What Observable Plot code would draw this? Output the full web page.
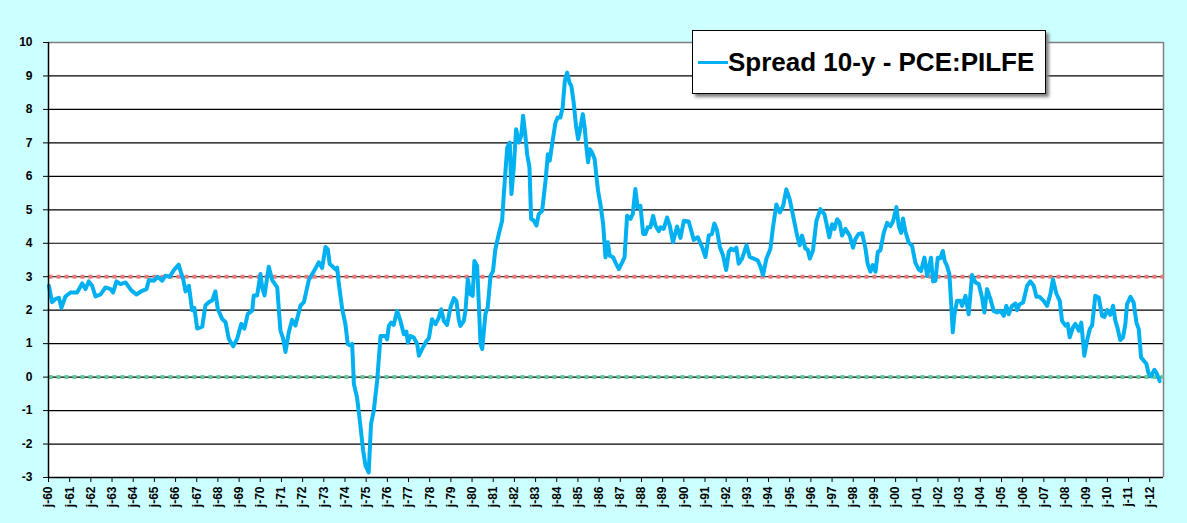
<!DOCTYPE html>
<html>
<head>
<meta charset="utf-8">
<script src="https://cdn.jsdelivr.net/npm/d3@7"></script>
<script src="https://cdn.jsdelivr.net/npm/@observablehq/plot@0.6"></script>
<style>
  html, body { margin: 0; padding: 0; background: #ccffff; }
  #wrap { position: relative; width: 1187px; height: 523px; overflow: hidden; }
  #legend {
    position: absolute; left: 692px; top: 30px; width: 354px; height: 64px;
    background: #fff; border: 1px solid #000; box-shadow: 3px 3px 3px #808080;
    font-family: "Liberation Sans", Arial, sans-serif; font-weight: bold; font-size: 26px;
    box-sizing: border-box;
  }
  #legend .sw { position: absolute; left: 5px; top: 30px; width: 30px; height: 3px; background: #00b0f0; }
  #legend .tx { position: absolute; left: 35px; top: 16px; white-space: nowrap; line-height: 30px; }
</style>
</head>
<body>
<div id="wrap"></div>
<script>
const seriesName = "Spread 10-y - PCE:PILFE";
const dates = [
1960.02,1960.17,1960.33,1960.49,1960.61,1960.80,1961.04,1961.35,1961.59,1961.75,1961.90,1962.06,1962.22,1962.46,1962.69,1962.93,1963.05,1963.21,1963.40,1963.64,1963.90,1964.15,1964.42,1964.63,1964.74,1964.97,1965.16,1965.37,1965.52,1965.73,1965.92,1966.15,1966.23,1966.36,1966.47,1966.63,1966.78,1966.89,1967.02,1967.26,1967.41,1967.57,1967.73,1967.88,1967.99,1968.20,1968.36,1968.51,1968.72,1968.91,1969.10,1969.25,1969.41,1969.62,1969.69,1969.85,1970.01,1970.09,1970.20,1970.40,1970.56,1970.80,1970.95,1971.08,1971.19,1971.35,1971.50,1971.66,1971.90,1972.06,1972.29,1972.53,1972.76,1972.92,1973.08,1973.19,1973.28,1973.39,1973.55,1973.63,1973.71,1973.87,1974.02,1974.13,1974.26,1974.34,1974.42,1974.57,1974.70,1974.86,1974.97,1975.12,1975.23,1975.36,1975.52,1975.68,1975.91,1975.99,1976.07,1976.18,1976.30,1976.46,1976.62,1976.78,1976.90,1976.97,1977.09,1977.25,1977.41,1977.49,1977.64,1977.85,1977.96,1978.11,1978.27,1978.43,1978.54,1978.67,1978.82,1978.98,1979.14,1979.26,1979.37,1979.45,1979.61,1979.69,1979.80,1979.92,1980.03,1980.11,1980.24,1980.32,1980.40,1980.48,1980.63,1980.74,1980.87,1980.99,1981.10,1981.26,1981.42,1981.50,1981.58,1981.66,1981.78,1981.86,1981.97,1982.08,1982.21,1982.32,1982.41,1982.52,1982.60,1982.71,1982.79,1982.91,1983.04,1983.15,1983.31,1983.47,1983.58,1983.67,1983.78,1983.94,1984.05,1984.17,1984.28,1984.38,1984.49,1984.60,1984.69,1984.80,1984.91,1985.01,1985.12,1985.23,1985.32,1985.40,1985.48,1985.56,1985.67,1985.79,1985.87,1985.95,1986.06,1986.19,1986.30,1986.41,1986.50,1986.66,1986.77,1986.93,1987.05,1987.20,1987.32,1987.48,1987.59,1987.71,1987.82,1987.95,1988.08,1988.19,1988.30,1988.42,1988.55,1988.66,1988.82,1988.90,1989.05,1989.21,1989.34,1989.49,1989.68,1989.84,1990.00,1990.23,1990.47,1990.66,1990.86,1991.02,1991.18,1991.33,1991.44,1991.57,1991.70,1991.85,1992.00,1992.12,1992.23,1992.36,1992.48,1992.59,1992.75,1992.96,1993.11,1993.30,1993.49,1993.62,1993.74,1993.90,1994.09,1994.21,1994.37,1994.53,1994.69,1994.84,1995.00,1995.16,1995.35,1995.47,1995.58,1995.74,1995.85,1995.95,1996.10,1996.26,1996.45,1996.64,1996.76,1996.87,1997.00,1997.11,1997.24,1997.36,1997.47,1997.63,1997.83,1997.99,1998.10,1998.26,1998.42,1998.57,1998.68,1998.81,1998.92,1999.05,1999.16,1999.28,1999.44,1999.60,1999.75,1999.88,2000.04,2000.15,2000.26,2000.35,2000.46,2000.62,2000.78,2000.93,2001.09,2001.20,2001.36,2001.49,2001.67,2001.77,2001.88,2001.99,2002.11,2002.23,2002.32,2002.43,2002.54,2002.62,2002.70,2002.78,2002.90,2003.06,2003.14,2003.30,2003.45,2003.61,2003.77,2003.93,2004.08,2004.19,2004.32,2004.48,2004.63,2004.79,2004.95,2005.11,2005.23,2005.34,2005.50,2005.66,2005.73,2005.86,2006.02,2006.21,2006.36,2006.52,2006.65,2006.80,2006.99,2007.15,2007.31,2007.43,2007.59,2007.75,2007.86,2008.02,2008.13,2008.22,2008.38,2008.49,2008.65,2008.77,2008.91,2009.04,2009.17,2009.28,2009.43,2009.59,2009.75,2009.86,2009.99,2010.14,2010.27,2010.38,2010.49,2010.61,2010.74,2010.85,2010.93,2011.09,2011.24,2011.37,2011.48,2011.59,2011.72,2011.84,2011.95,2012.06,2012.22,2012.34,2012.47
];
const spread = [
2.73,2.24,2.34,2.37,2.07,2.41,2.53,2.53,2.80,2.63,2.86,2.73,2.41,2.47,2.68,2.63,2.53,2.86,2.78,2.83,2.60,2.47,2.58,2.63,2.90,2.88,3.00,2.88,3.03,3.00,3.20,3.36,3.18,2.93,2.56,2.73,2.00,2.07,1.45,1.51,2.14,2.24,2.29,2.56,2.04,1.74,1.64,1.15,0.92,1.15,1.59,1.45,1.89,1.99,2.44,2.44,3.08,2.68,2.44,3.30,2.90,2.68,1.40,1.15,0.75,1.35,1.71,1.54,2.14,2.24,2.90,3.16,3.43,3.26,3.89,3.82,3.38,3.32,3.22,3.27,2.78,2.03,1.58,0.99,0.94,0.99,-0.21,-0.61,-1.30,-2.20,-2.65,-2.85,-1.40,-1.00,-0.10,1.23,1.23,1.13,1.53,1.63,1.56,1.98,1.68,1.28,1.36,1.03,1.23,1.18,0.99,0.64,0.84,1.08,1.16,1.73,1.58,1.78,2.03,1.68,1.56,2.08,2.36,2.28,1.73,1.53,1.68,1.98,2.93,2.48,2.43,3.47,3.32,2.18,0.99,0.84,1.88,2.08,3.02,3.17,3.82,4.27,4.67,5.47,6.17,6.86,7.01,5.47,6.27,7.41,7.01,7.21,7.81,7.21,6.66,6.27,4.73,4.68,4.53,4.87,4.97,5.87,6.66,6.47,6.96,7.61,7.76,7.76,8.06,8.85,9.10,8.80,8.70,8.20,7.51,7.11,7.46,7.86,7.46,6.86,6.42,6.81,6.71,6.51,6.02,5.57,5.17,4.58,3.58,4.03,3.63,3.58,3.43,3.23,3.38,3.58,4.82,4.73,4.87,5.62,5.07,5.12,4.28,4.28,4.48,4.48,4.82,4.53,4.36,4.48,4.43,4.77,4.52,4.03,4.50,4.16,4.67,4.65,4.10,4.18,3.89,3.59,4.23,4.28,4.59,4.38,3.89,3.64,3.20,3.74,3.84,3.79,3.87,3.39,3.54,3.94,3.59,3.54,3.49,3.30,3.05,3.54,3.84,4.48,5.16,4.92,5.12,5.61,5.31,4.82,4.23,3.94,4.23,3.84,3.81,3.54,3.79,4.67,5.02,4.87,4.52,4.18,4.57,4.43,4.72,4.62,4.23,4.43,4.23,3.87,4.13,4.28,4.30,3.87,3.39,3.15,3.35,3.15,3.74,3.79,4.31,4.61,4.51,4.66,5.08,4.51,4.31,4.74,4.36,4.02,3.92,3.42,3.22,3.17,3.57,3.02,3.57,2.86,2.88,3.57,3.55,3.77,3.47,3.32,3.07,2.23,1.34,1.88,2.28,2.28,2.13,2.43,1.88,3.05,2.83,2.78,2.38,1.93,2.63,2.33,1.98,1.93,1.98,1.83,2.13,1.88,2.13,2.20,2.00,2.18,2.23,2.73,2.86,2.73,2.40,2.40,2.28,2.13,2.48,2.92,2.50,2.28,1.68,1.54,1.59,1.19,1.49,1.59,1.39,1.63,0.64,1.09,1.44,1.54,2.43,2.38,1.83,1.80,2.00,1.86,2.13,1.68,1.44,1.11,1.19,1.59,2.18,2.40,2.23,1.63,1.44,0.59,0.49,0.40,0.10,0.02,0.22,0.10,-0.12
];
const yTicks = [-3,-2,-1,0,1,2,3,4,5,6,7,8,9,10];
const xTickYears = d3.range(1960, 2013);
const xDomain = [1960, 2012.65];
const refLevels = [
  {level: 3, color: "#f07a7a"},
  {level: 0, color: "#66cc99"}
];

const data = dates.map((t, i) => ({t, v: spread[i]}));
const refData = refLevels.flatMap(r => xDomain.map(t => ({t, v: r.level, key: r.level, color: r.color})));

const chart = Plot.plot({
  width: 1187,
  height: 523,
  marginLeft: 48,
  marginRight: 24,
  marginTop: 42,
  marginBottom: 46,
  style: {background: "#ccffff", fontFamily: "'Liberation Sans', Arial, sans-serif", fontSize: "12px", fontWeight: "bold", color: "#000"},
  x: {domain: xDomain, label: null},
  y: {domain: [-3, 10], label: null},
  marks: [
    Plot.rectY([0], {x1: xDomain[0], x2: xDomain[1], y1: -3, y2: 10, fill: "#fff"}),
    Plot.ruleY(yTicks.filter(d => d !== 10), {stroke: "#000", strokeWidth: 1.2}),
    Plot.ruleY([10], {stroke: "#808080", strokeWidth: 1.5}),
    Plot.ruleX([xDomain[1]], {stroke: "#808080", strokeWidth: 1.5}),
    Plot.line(refData, {x: "t", y: "v", z: "key", stroke: d => d.color, strokeWidth: 4, strokeDasharray: "4,4", strokeLinecap: "butt"}),
    Plot.line(data, {x: "t", y: "v", stroke: "#00b0f0", strokeWidth: 4, strokeLinejoin: "round"}),
    Plot.ruleX([xDomain[0]], {stroke: "#000", strokeWidth: 1.5}),
    Plot.ruleY([-3], {stroke: "#000", strokeWidth: 1.5}),
    Plot.axisY({ticks: yTicks, tickSize: 5, tickPadding: 11, tickFormat: d => String(d), fontSize: 12, fontWeight: "bold"}),
    Plot.axisX({ticks: xTickYears, tickSize: 5, tickPadding: 4, tickRotate: -90,
      tickFormat: d => "j-" + String(d % 100).padStart(2, "0"), fontSize: 12, fontWeight: "bold"})
  ]
});

const wrap = document.getElementById("wrap");
wrap.appendChild(chart);
const lg = document.createElement("div");
lg.id = "legend";
lg.innerHTML = '<div class="sw"></div><div class="tx"></div>';
lg.querySelector(".tx").textContent = seriesName;
wrap.appendChild(lg);
</script>
</body>
</html>
